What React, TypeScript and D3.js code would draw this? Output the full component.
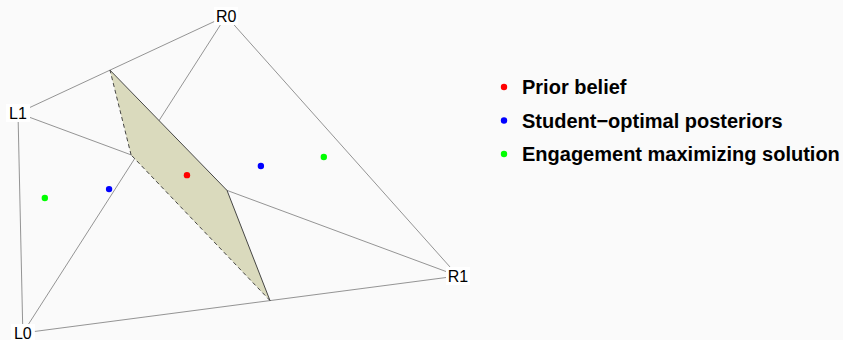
import React from "react";
import * as d3 from "d3";
import { useEffect, useRef } from "react";

// tetrahedron corners, in plot units (0..100 on both axes)
const cornerNames = ["L0", "L1", "R0", "R1"];
const cornerX = [1.1, 0, 47.3, 100];
const cornerY = [0, 69.4, 100, 18.0];

// all six edges of the simplex
const edges = [
  ["L1", "R0"],
  ["L1", "L0"],
  ["L0", "R1"],
  ["R0", "R1"],
  ["L0", "R0"],
  ["L1", "R1"],
];

// shaded region: each corner sits on an edge at fraction t
const regionEdges = [
  ["L1", "R0"],
  ["L1", "R1"],
  ["L0", "R1"],
  ["L1", "R1"],
];
const regionT = [0.442, 0.475, 0.568, 0.257];
const regionDashed = [false, false, true, true]; // side from corner i to i+1

// belief points
const pointX = [38.4, 20.7, 55.2, 6.1, 69.5];
const pointY = [49.8, 45.4, 52.7, 42.6, 55.5];
const pointGroup = [0, 1, 1, 2, 2];

const legendLabels = [
  "Prior belief",
  "Student\u2212optimal posteriors",
  "Engagement maximizing solution",
];
const legendColors = ["#ff0000", "#0000ff", "#00ff00"];

function App() {
  const svgRef = useRef<SVGSVGElement>(null);
  const width = 843;
  const height = 340;

  useEffect(() => {
    const svg = d3.select(svgRef.current);
    svg.selectAll("*").remove();

    const xScale = d3.scaleLinear().domain([0, 100]).range([18, 458]);
    const yScale = d3.scaleLinear().domain([0, 100]).range([333, 16]);

    const corner = (name: string) => {
      const i = cornerNames.indexOf(name);
      return [cornerX[i], cornerY[i]];
    };

    svg.append("rect")
      .attr("width", width)
      .attr("height", height)
      .attr("fill", "#fafafa");

    // edges
    svg.append("g")
      .selectAll("line")
      .data(edges)
      .join("line")
      .attr("x1", (d) => xScale(corner(d[0])[0]))
      .attr("y1", (d) => yScale(corner(d[0])[1]))
      .attr("x2", (d) => xScale(corner(d[1])[0]))
      .attr("y2", (d) => yScale(corner(d[1])[1]))
      .attr("stroke", "#888")
      .attr("stroke-width", 0.9);

    // region
    const region = regionEdges.map((e, i) => {
      const a = corner(e[0]);
      const b = corner(e[1]);
      const t = regionT[i];
      return [a[0] + (b[0] - a[0]) * t, a[1] + (b[1] - a[1]) * t];
    });
    const line = d3.line<number[]>()
      .x((d) => xScale(d[0]))
      .y((d) => yScale(d[1]));

    svg.append("path")
      .attr("d", line(region) + "Z")
      .attr("fill", "#dadabd")
      .attr("stroke", "none");

    svg.append("g")
      .selectAll("path")
      .data(region.map((p, i) => [p, region[(i + 1) % region.length]]))
      .join("path")
      .attr("d", (d) => line(d))
      .attr("fill", "none")
      .attr("stroke", "#333")
      .attr("stroke-width", 0.9)
      .attr("stroke-dasharray", (d, i) => (regionDashed[i] ? "4,3" : null));

    // points
    svg.append("g")
      .selectAll("circle")
      .data(pointX)
      .join("circle")
      .attr("cx", (d) => xScale(d))
      .attr("cy", (d, i) => yScale(pointY[i]))
      .attr("r", 3.2)
      .attr("fill", (d, i) => legendColors[pointGroup[i]]);

    // corner labels
    const labels = svg.append("g")
      .selectAll("g")
      .data(cornerNames)
      .join("g")
      .attr("transform", (d, i) => `translate(${xScale(cornerX[i])},${yScale(cornerY[i])})`);
    labels.append("rect")
      .attr("x", -12)
      .attr("y", -9)
      .attr("width", 24)
      .attr("height", 18)
      .attr("fill", "#fff");
    labels.append("text")
      .attr("text-anchor", "middle")
      .attr("dy", "0.36em")
      .attr("font-family", "Liberation Sans, Arial, sans-serif")
      .attr("font-size", 16)
      .attr("fill", "#000")
      .text((d) => d);

    // legend
    const legend = svg.append("g")
      .selectAll("g")
      .data(legendLabels)
      .join("g")
      .attr("transform", (d, i) => `translate(504,${87 + i * 33.5})`);
    legend.append("circle")
      .attr("r", 3.2)
      .attr("fill", (d, i) => legendColors[i]);
    legend.append("text")
      .attr("x", 18)
      .attr("dy", "0.36em")
      .attr("font-family", "Liberation Sans, Arial, sans-serif")
      .attr("font-weight", "bold")
      .attr("font-size", 20)
      .attr("fill", "#000")
      .text((d) => d);
  }, []);

  return (
    <div style={{ position: "fixed", left: 0, top: 0, width, height }}>
      <svg ref={svgRef} width={width} height={height} style={{ display: "block" }}></svg>
    </div>
  );
}

export default App;
